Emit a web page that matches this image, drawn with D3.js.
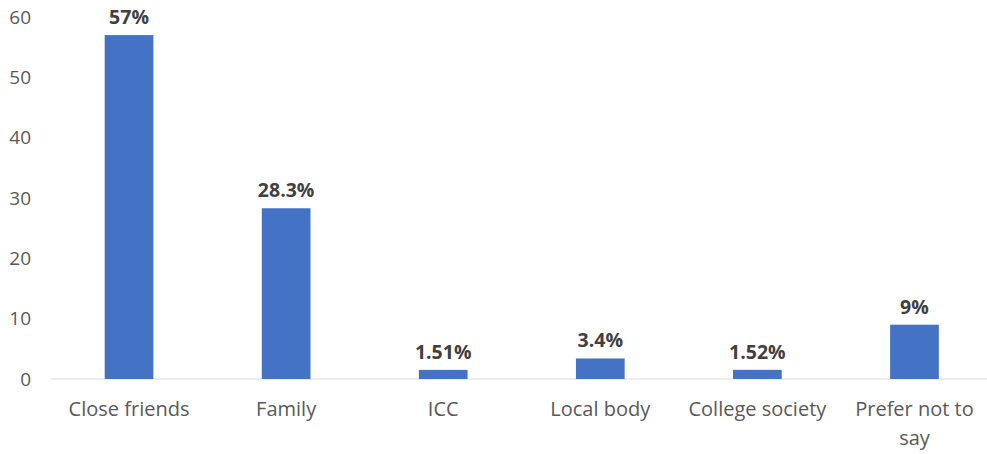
<!DOCTYPE html>
<html>
<head>
<meta charset="utf-8">
<script src="https://cdn.jsdelivr.net/npm/d3@7/dist/d3.min.js"></script>
<style>
  html, body { margin: 0; padding: 0; background: #fff; }
  svg { display: block; }
  text { font-family: "Open Sans", Lato, "Liberation Sans", sans-serif; }
</style>
</head>
<body>
<svg id="chart" width="987" height="454"></svg>
<script>
// Share of respondents by who they would turn to
const categories = ["Close friends", "Family", "ICC", "Local body", "College society", "Prefer not to say"];
const values = [57, 28.3, 1.51, 3.4, 1.52, 9];
const valueLabels = ["57%", "28.3%", "1.51%", "3.4%", "1.52%", "9%"];
const yTicks = [0, 10, 20, 30, 40, 50, 60];

const svg = d3.select("#chart");
const width = 987, height = 454;
const margin = { left: 50.5, right: -6, top: 17, bottom: 75 };
const plotBottom = height - margin.bottom; // 379
const fontFamily = "'Open Sans', Lato, sans-serif";

const x = d3.scaleBand()
  .domain(categories)
  .range([margin.left, width - margin.right])
  .paddingInner(0.69)
  .paddingOuter(0.345);

const y = d3.scaleLinear()
  .domain([0, 60])
  .range([plotBottom, margin.top]);

// Baseline
svg.append("line")
  .attr("x1", margin.left).attr("x2", width)
  .attr("y1", y(0)).attr("y2", y(0))
  .attr("stroke", "#d9d9d9").attr("stroke-width", 1);

// Y axis tick labels
const yAxis = d3.axisLeft(y).tickValues(yTicks).tickSize(0).tickPadding(19.5);
const gy = svg.append("g").attr("transform", `translate(${margin.left},0)`).call(yAxis);
gy.select(".domain").remove();
gy.selectAll("text")
  .attr("font-size", 19)
  .attr("fill", "#595959")
  .style("font-family", fontFamily);

// Bars
svg.append("g").selectAll("rect")
  .data(values)
  .join("rect")
  .attr("x", (d, i) => x(categories[i]))
  .attr("width", x.bandwidth())
  .attr("y", d => y(d))
  .attr("height", d => y(0) - y(d))
  .attr("fill", "#4472c4");

// Value labels
svg.append("g").selectAll("text")
  .data(values)
  .join("text")
  .attr("x", (d, i) => x(categories[i]) + x.bandwidth() / 2)
  .attr("y", d => y(d) - 11)
  .attr("text-anchor", "middle")
  .attr("font-size", 19.5)
  .attr("font-weight", "bold")
  .attr("fill", "#404040")
  .style("font-family", fontFamily)
  .text((d, i) => valueLabels[i]);

// Category labels, wrapped where a label is wider than its slot
const xAxis = d3.axisBottom(x).tickSize(0).tickPadding(0);
const gx = svg.append("g").attr("transform", `translate(0,${plotBottom})`).call(xAxis);
gx.select(".domain").remove();
gx.selectAll("text").remove();
gx.selectAll(".tick").each(function(d) {
  const lines = d === "Prefer not to say" ? ["Prefer not to", "say"] : [d];
  const t = d3.select(this).append("text")
    .attr("text-anchor", "middle")
    .attr("font-size", 20)
    .attr("fill", "#595959")
    .style("font-family", fontFamily);
  lines.forEach((ln, i) => {
    t.append("tspan").attr("x", 0).attr("y", 37 + i * 29).text(ln);
  });
});
</script>
</body>
</html>
